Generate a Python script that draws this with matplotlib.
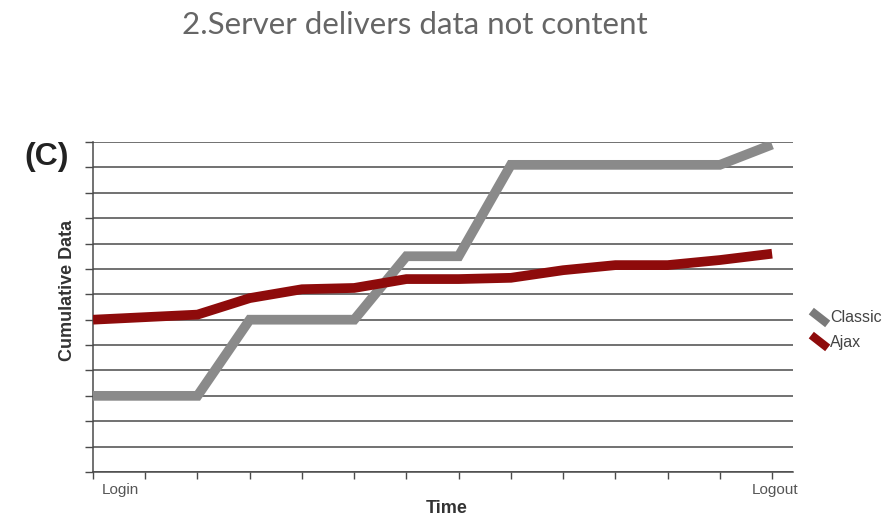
import matplotlib
matplotlib.use("Agg")
import matplotlib.pyplot as plt
from matplotlib.lines import Line2D
from matplotlib.markers import MarkerStyle
from matplotlib.transforms import Affine2D
import numpy as np

# ---- data ----
steps = list(range(14))
classic = [3.0, 3.0, 3.0, 6.0, 6.0, 6.0, 8.5, 8.5, 12.1, 12.1, 12.1, 12.1, 12.1, 12.9]
ajax = [6.0, 6.1, 6.2, 6.85, 7.2, 7.25, 7.6, 7.6, 7.65, 7.95, 8.15, 8.15, 8.35, 8.6]
tick_labels = ["Login"] + [""] * 12 + ["Logout"]
series_names = ["Classic", "Ajax"]

W, H = 895, 518
fig = plt.figure(figsize=(W / 100, H / 100), dpi=100)
ax = fig.add_axes([93 / W, 1 - 472 / H, (793 - 93) / W, (472 - 142) / H])

gray = "#8a8a8a"
red = "#8e0b0b"
lw = 7.0

ax.plot(steps, classic, color=gray, lw=lw, solid_joinstyle="miter",
        solid_capstyle="butt", zorder=3)
ax.plot(steps, ajax, color=red, lw=lw, solid_joinstyle="miter",
        solid_capstyle="butt", zorder=3)

ax.set_xlim(0, 13.4)
ax.set_ylim(0, 13)

# gridlines
ax.set_yticks(np.arange(0, 14))
ax.yaxis.grid(True, color="#4a4a4a", lw=1.1)
ax.set_yticklabels([])
ax.tick_params(axis="y", length=6, width=1.0, color="#4a4a4a", direction="out")

ax.set_xticks(steps)
ax.set_xticklabels([""] * 14)
ax.tick_params(axis="x", length=5, width=1.0, color="#4a4a4a", direction="out")

for s in ["top", "right"]:
    ax.spines[s].set_visible(False)
ax.spines["left"].set_color("#4a4a4a")
ax.spines["bottom"].set_color("#4a4a4a")
ax.spines["left"].set_linewidth(1.1)
ax.spines["bottom"].set_linewidth(1.1)

# x labels
ax.text(0.17, -0.45, tick_labels[0], ha="left", va="top", fontsize=11,
        color="#555555", family="Liberation Sans")
ax.text(13.05, -0.45, tick_labels[-1], ha="center", va="top", fontsize=11,
        color="#555555", family="Liberation Sans")

# axis titles
fig.text(67 / W, 1 - 290 / H, "Cumulative Data", rotation=90, ha="center",
         va="center", fontsize=13, fontweight="bold", color="#333333",
         family="Liberation Sans")
fig.text(447 / W, 1 - 517 / H, "Time", ha="center", va="bottom", fontsize=13,
         fontweight="bold", color="#333333", family="Liberation Sans")
fig.text(24 / W, 1 - 157 / H, "(C)", ha="left", va="center", fontsize=23,
         fontweight="bold", color="#222222", family="Liberation Sans")

# title
fig.text(415 / W, 1 - 25 / H, "2.Server delivers data not content", ha="center",
         va="center", fontsize=22.5, color="#666666", family="Lato")

# legend
verts = [(-1, -0.4), (1, -0.4), (1, 0.4), (-1, 0.4), (-1, -0.4)]
mk = MarkerStyle(verts, transform=Affine2D().rotate_deg(-38))
handles = [Line2D([], [], ls="none", marker=mk, markersize=15, color="#7a7a7a",
                  markeredgewidth=0),
           Line2D([], [], ls="none", marker=mk, markersize=15, color=red,
                  markeredgewidth=0)]
fig.legend(handles, series_names, loc="center left",
           bbox_to_anchor=(795 / W, 1 - 330 / H), frameon=False,
           handlelength=1.2, handletextpad=0.1, labelspacing=0.6,
           prop={"family": "Liberation Sans", "size": 11.5},
           labelcolor="#444444")

fig.savefig("out.png", dpi=100)
